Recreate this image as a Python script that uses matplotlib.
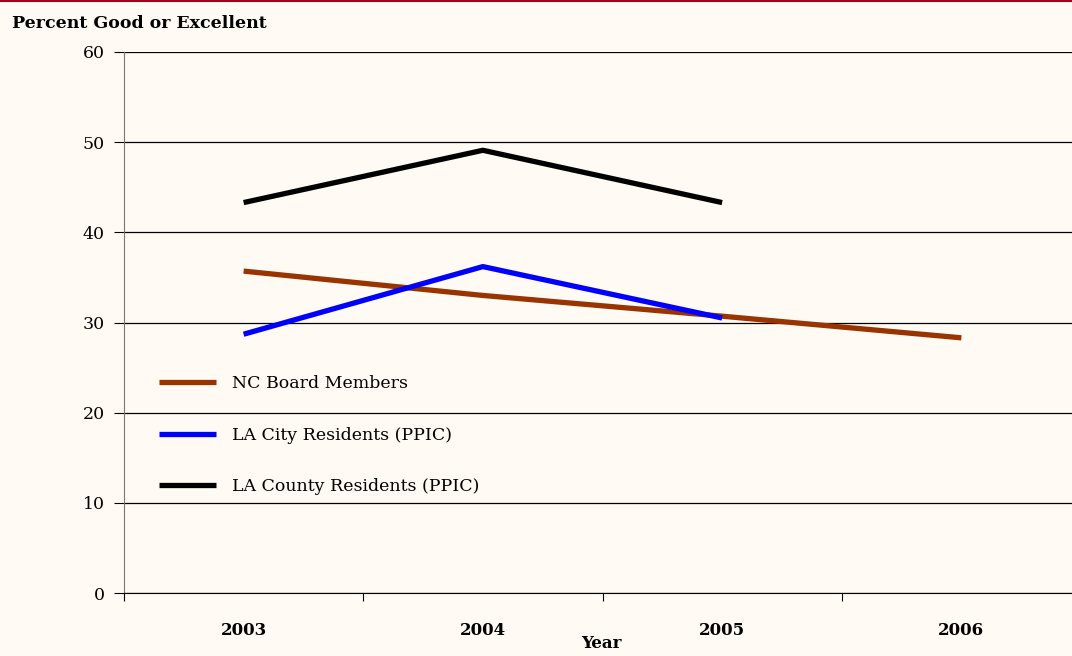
import matplotlib.pyplot as plt
from matplotlib.lines import Line2D

years = ["2003", "2004", "2005", "2006"]
nc_board = [35.7, 33.0, 30.7, 28.3]
la_city = [28.7, 36.2, 30.5]
la_county = [43.3, 49.1, 43.3]

bg = "#FFFAF3"
plt.rcParams["font.family"] = ["DejaVu Serif"]

fig = plt.figure(figsize=(10.72, 6.56), dpi=100, facecolor=bg)
ax = fig.add_axes([124 / 1072, 1 - 593 / 656, (1081 - 124) / 1072, (593 - 52) / 656])
ax.set_facecolor(bg)

x = range(len(years))
ax.plot(x, nc_board, color="#993300", lw=3.8, solid_capstyle="butt", label="NC Board Members")
ax.plot(x[:3], la_city, color="#0000FF", lw=3.8, solid_capstyle="butt", label="LA City Residents (PPIC)")
ax.plot(x[:3], la_county, color="#000000", lw=3.8, solid_capstyle="butt", label="LA County Residents (PPIC)")

ax.set_xlim(-0.5, 3.5)
ax.set_ylim(0, 60)
ax.set_yticks(range(0, 61, 10))
ax.yaxis.grid(True, color="black", lw=0.9)
ax.set_axisbelow(True)
ax.set_xticks([i + 0.5 for i in range(-1, 4)])
ax.set_xticklabels([])
ax.set_xticks(list(x), minor=True)
ax.set_xticklabels(years, minor=True, fontweight="bold", fontsize=12)
ax.tick_params(axis="x", which="minor", length=0, pad=21)
ax.tick_params(axis="x", which="major", length=6, direction="out", color="black")
ax.tick_params(axis="y", length=7, direction="out", labelsize=12.5, pad=7)

for s in ["top", "right"]:
    ax.spines[s].set_visible(False)
ax.spines["left"].set_color("#777777")
ax.spines["bottom"].set_color("black")

fig.text(12 / 1072, 1 - 23 / 656, "Percent Good or Excellent", fontweight="bold",
         fontsize=12.5, va="center", ha="left")
fig.text(601 / 1072, 1 - 644 / 656, "Year", fontweight="bold", fontsize=12,
         va="center", ha="center")
fig.add_artist(Line2D([0, 1], [1 - 1 / 656, 1 - 1 / 656], color="#A50021", lw=1.5))

ax.legend(loc="upper left", bbox_to_anchor=(0.02, 0.432), frameon=False, fontsize=12.5,
          handlelength=3.3, handletextpad=0.9, labelspacing=2.0)

fig.savefig("out.png", dpi=100, facecolor=bg)
